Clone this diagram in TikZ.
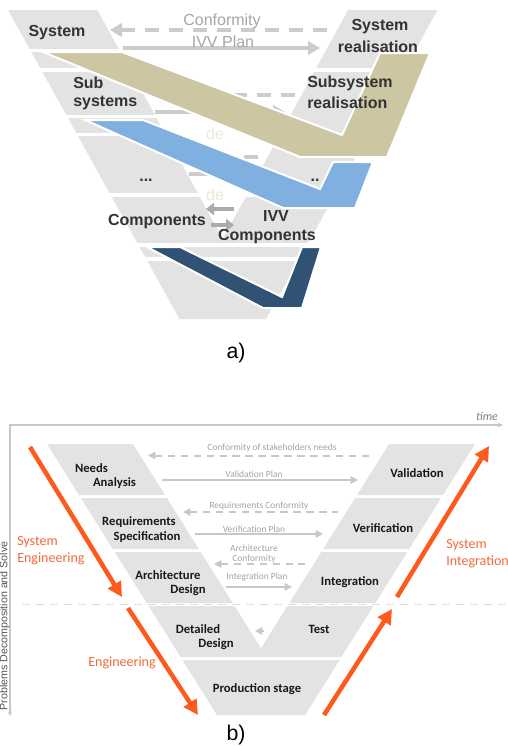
\documentclass[tikz,border=0pt]{standalone}
\usepackage{fontspec}
\setmainfont{Liberation Sans}
\newfontfamily\calib{Carlito}
\usetikzlibrary{arrows.meta}
\definecolor{vgray}{HTML}{E3E3E3}
\definecolor{tanband}{HTML}{CDC6A3}
\definecolor{blueband}{HTML}{80B0E0}
\definecolor{navyband}{HTML}{2F5275}
\definecolor{arrgray}{HTML}{CCCCCC}
\definecolor{arrdark}{HTML}{ABABAB}
\definecolor{txtdark}{HTML}{333333}
\definecolor{notegray}{HTML}{A6A6A6}
\definecolor{ghost}{HTML}{ECE8DA}
\definecolor{orng}{HTML}{FF5A1E}
\definecolor{orngtxt}{HTML}{F4693A}
\definecolor{arrb}{HTML}{C8C8C8}
\definecolor{noteb}{HTML}{A3A3A3}
\definecolor{beige}{HTML}{E2DED0}
\definecolor{frameg}{HTML}{C8C8C8}
\definecolor{vtext}{HTML}{555555}
\tikzset{
  tipA/.tip={Triangle[length=9pt,width=10pt]},
  tipS/.tip={Triangle[length=6pt,width=9pt]},
  tipB/.tip={Triangle[length=5.5pt,width=5.5pt]},
  tipO/.tip={Triangle[length=11pt,width=11pt]},
  arrowA/.style={line width=3pt, draw=arrgray},
  arrowS/.style={line width=3.5pt, draw=arrdark},
  dashA/.style={dash pattern=on 10pt off 8pt},
  gapline/.style={draw=white, line width=2.5pt},
  band/.style={draw=white, line width=1.5pt},
  lblA/.style={font=\bfseries\fontsize{12}{14}\selectfont, text=txtdark, inner sep=0},
  noteA/.style={font=\fontsize{12}{14}\selectfont, text=notegray, inner sep=0},
  ghostA/.style={font=\fontsize{12}{14}\selectfont, text=ghost, inner sep=0},
  arrowB/.style={line width=1.5pt, draw=arrb},
  dashB/.style={dash pattern=on 5.6pt off 4.1pt},
  lblB/.style={font=\calib\bfseries\fontsize{9.5}{11}\selectfont, text=black!90, inner sep=0},
  noteB/.style={font=\calib\fontsize{7.1}{8.5}\selectfont, text=noteb, inner sep=0},
  orA/.style={line width=3.4pt, draw=orng, -tipO},
  orT/.style={font=\calib\fontsize{10.5}{12}\selectfont, text=orngtxt, inner sep=0},
  capt/.style={font=\fontsize{16}{18}\selectfont, inner sep=0},
}
\begin{document}
\begin{tikzpicture}[x=0.75pt,y=-0.75pt]
\useasboundingbox (0,0) rectangle (507,746);
%% ================= part a =================
\fill[vgray] (8,10) -- (437.5,10) -- (266,319) -- (179.5,319) -- cycle;
\fill[white] (97,9) -- (348.5,9) -- (222.75,238.6) -- cycle;
\foreach \yy in {50.5,70,116.5,134.5,195}
  \draw[gapline] ({8+0.555*(\yy-10)-3},\yy) -- ({97+0.55*(\yy-10)+3},\yy);
\foreach \yy in {70,134.5,195}
  \draw[gapline] ({348.5-0.55*(\yy-10)-3},\yy) -- ({437.5-0.555*(\yy-10)+3},\yy);
\foreach \yy in {245,259}
  \draw[gapline] ({8+0.555*(\yy-10)-3},\yy) -- ({437.5-0.555*(\yy-10)+3},\yy);
% arrows
\coordinate (c1l) at (110,30); \coordinate (c1r) at (337,30);
\coordinate (p1l) at (123,48); \coordinate (p1r) at (320,48);
\coordinate (c2l) at (150,95); \coordinate (c2r) at (300,95);
\coordinate (p2l) at (155,112); \coordinate (p2r) at (285,112);
\coordinate (c3l) at (185,157); \coordinate (c3r) at (266,157);
\coordinate (p3l) at (189,174); \coordinate (p3r) at (255,174);
\coordinate (c4l) at (206,209); \coordinate (c4r) at (234,209);
\coordinate (p4l) at (211,225); \coordinate (p4r) at (234,225);
\draw[arrowA,dashA,tipA-] (c1l) -- (c1r);
\draw[arrowA,-tipA] (p1l) -- (p1r);
\draw[arrowA,dashA,tipA-] (c2l) -- (c2r);
\draw[arrowA,-tipA] (p2l) -- (p2r);
\draw[arrowA,dashA,tipA-] (c3l) -- (c3r);
\draw[arrowA,-tipA] (p3l) -- (p3r);
\draw[arrowS,tipS-] (c4l) -- (c4r);
\draw[arrowS,-tipS] (p4l) -- (p4r);
\node[noteA] (conf) at (222,21) {Conformity};
\node[noteA] (ivvp) at (223,42) {IVV Plan};
\node[ghostA] (de1) at (215,134) {de};
\node[ghostA] (de2) at (215,195) {de};
% bands
\filldraw[band, fill=tanband] (43,52) -- (122,52) -- (342,135) -- (380,53) -- (430,53) -- (387,157) -- (300,157) -- cycle;
\filldraw[band, fill=blueband] (85,120) -- (143,120) -- (320,189) -- (333,162) -- (373,162) -- (355,208) -- (283,208) -- cycle;
\filldraw[band, fill=navyband] (147,247) -- (180,247) -- (282,297) -- (302,247) -- (321,247) -- (302,308) -- (263,308) -- cycle;
% labels
\node[lblA] (sys) at (57,33) {System};
\node[lblA] (sysr1) at (380,27) {System};
\node[lblA] (sysr2) at (378,47) {realisation};
\node[lblA,anchor=west] (sub1) at (73,83) {Sub};
\node[lblA,anchor=west] (sub2) at (73,103) {systems};
\node[lblA,anchor=west] (subr1) at (307,83) {Subsystem};
\node[lblA,anchor=west] (subr2) at (307,103) {realisation};
\node[lblA,anchor=base] (dots1) at (146,181) {...};
\node[lblA,anchor=base] (dots2) at (315,181) {..};
\node[lblA] (comp) at (157,222) {Components};
\node[lblA] (ivv1) at (276,216) {IVV};
\node[lblA] (ivv2) at (267,237) {Components};
\node[capt] (capa) at (236,353) {a)};
%% ================= part b =================
\fill[vgray] (47,444) -- (133,444) -- (165,495) -- (79,495) -- cycle;
\fill[vgray] (389,444) -- (475,444) -- (443,495) -- (357,495) -- cycle;
\fill[vgray] (80.9,498) -- (166.9,498) -- (198.8,549) -- (112.8,549) -- cycle;
\fill[vgray] (355.1,498) -- (441.1,498) -- (409.2,549) -- (323.2,549) -- cycle;
\fill[vgray] (114.7,552) -- (200.7,552) -- (232.7,603) -- (146.7,603) -- cycle;
\fill[vgray] (321.3,552) -- (407.3,552) -- (375.3,603) -- (289.3,603) -- cycle;
\fill[vgray] (148.6,606) -- (234.6,606) -- (261,648.2) -- (287.4,606) -- (373.4,606) -- (341.4,657) -- (180.6,657) -- cycle;
\fill[vgray] (182.4,660) -- (339.6,660) -- (305.1,715) -- (216.9,715) -- cycle;
% frame
\coordinate (fbot) at (10,716); \coordinate (fcor) at (10,425); \coordinate (fend) at (503,425);
\draw[draw=frameg, line width=0.8pt, {Stealth[length=3.5pt,width=3pt]}-{Stealth[length=4pt,width=3.5pt]}] (fbot) -- (fcor) -- (fend);
\node[font=\calib\itshape\fontsize{8.9}{10}\selectfont, text=black!50, inner sep=0] (time) at (487,416) {time};
\node[rotate=90, font=\fontsize{8}{9}\selectfont, text=vtext, inner sep=0] (vt) at (4.5,626) {Problems Decomposition and Solve};
\coordinate (dl) at (22,604.5); \coordinate (dr) at (507,604.5);
\draw[draw=beige, line width=1.2pt, dash pattern=on 6pt off 4.5pt] (dl) -- (dr);
% gray arrows
\coordinate (b1l) at (148,455.5); \coordinate (b1r) at (372,455.5);
\coordinate (b2l) at (162,480); \coordinate (b2r) at (358,480);
\coordinate (b3l) at (183,512); \coordinate (b3r) at (338,512);
\coordinate (b4l) at (195,534); \coordinate (b4r) at (323,534);
\coordinate (b5l) at (214,564); \coordinate (b5r) at (305,564);
\coordinate (b6l) at (226,587); \coordinate (b6r) at (292,587);
\coordinate (b7l) at (255,631); \coordinate (b7r) at (264,631);
\draw[arrowB,dashB,tipB-] (b1l) -- (b1r);
\draw[arrowB,-tipB] (b2l) -- (b2r);
\draw[arrowB,dashB,tipB-] (b3l) -- (b3r);
\draw[arrowB,-tipB] (b4l) -- (b4r);
\draw[arrowB,dashB,tipB-] (b5l) -- (b5r);
\draw[arrowB,-tipB] (b6l) -- (b6r);
\draw[arrowB,tipB-] (b7l) -- (b7r);
\node[noteB] (nb1) at (272,448) {Conformity of stakeholders needs};
\node[noteB] (nb2) at (254,474) {Validation Plan};
\node[noteB] (nb3) at (259,506) {Requirements Conformity};
\node[noteB] (nb4) at (254,529) {Verification Plan};
\node[noteB] (nb5) at (254,548) {Architecture};
\node[noteB] (nb6) at (254,559) {Conformity};
\node[noteB] (nb7) at (257,577) {Integration Plan};
% block labels
\node[lblB] (na1) at (91.5,468) {Needs};
\node[lblB] (na2) at (114.5,483) {Analysis};
\node[lblB] (rs1) at (139,522) {Requirements};
\node[lblB] (rs2) at (147,537) {Specification};
\node[lblB] (ad1) at (168,575) {Architecture};
\node[lblB] (ad2) at (188,590) {Design};
\node[lblB] (dd1) at (198,629) {Detailed};
\node[lblB] (dd2) at (216,644) {Design};
\node[lblB] (ps) at (257,689) {Production stage};
\node[lblB] (val) at (417,473) {Validation};
\node[lblB] (ver) at (383,528) {Verification};
\node[lblB] (int) at (350,582) {Integration};
\node[lblB] (tst) at (319,629) {Test};
% orange arrows
\coordinate (o1s) at (30,447); \coordinate (o1e) at (122,597);
\coordinate (o2s) at (128,608); \coordinate (o2e) at (198,715);
\coordinate (o3s) at (324,715); \coordinate (o3e) at (392,609);
\coordinate (o4s) at (397,597); \coordinate (o4e) at (489,446);
\draw[orA] (o1s) -- (o1e);
\draw[orA] (o2s) -- (o2e);
\draw[orA] (o3s) -- (o3e);
\draw[orA] (o4s) -- (o4e);
\node[orT,anchor=west] (se1) at (17,542) {System};
\node[orT,anchor=west] (se2) at (17,559) {Engineering};
\node[orT] (eng) at (122,663) {Engineering};
\node[orT,anchor=west] (si1) at (446,545) {System};
\node[orT,anchor=west] (si2) at (446,562) {Integration};
\node[capt] (capb) at (236,735) {b)};
\end{tikzpicture}
\end{document}
